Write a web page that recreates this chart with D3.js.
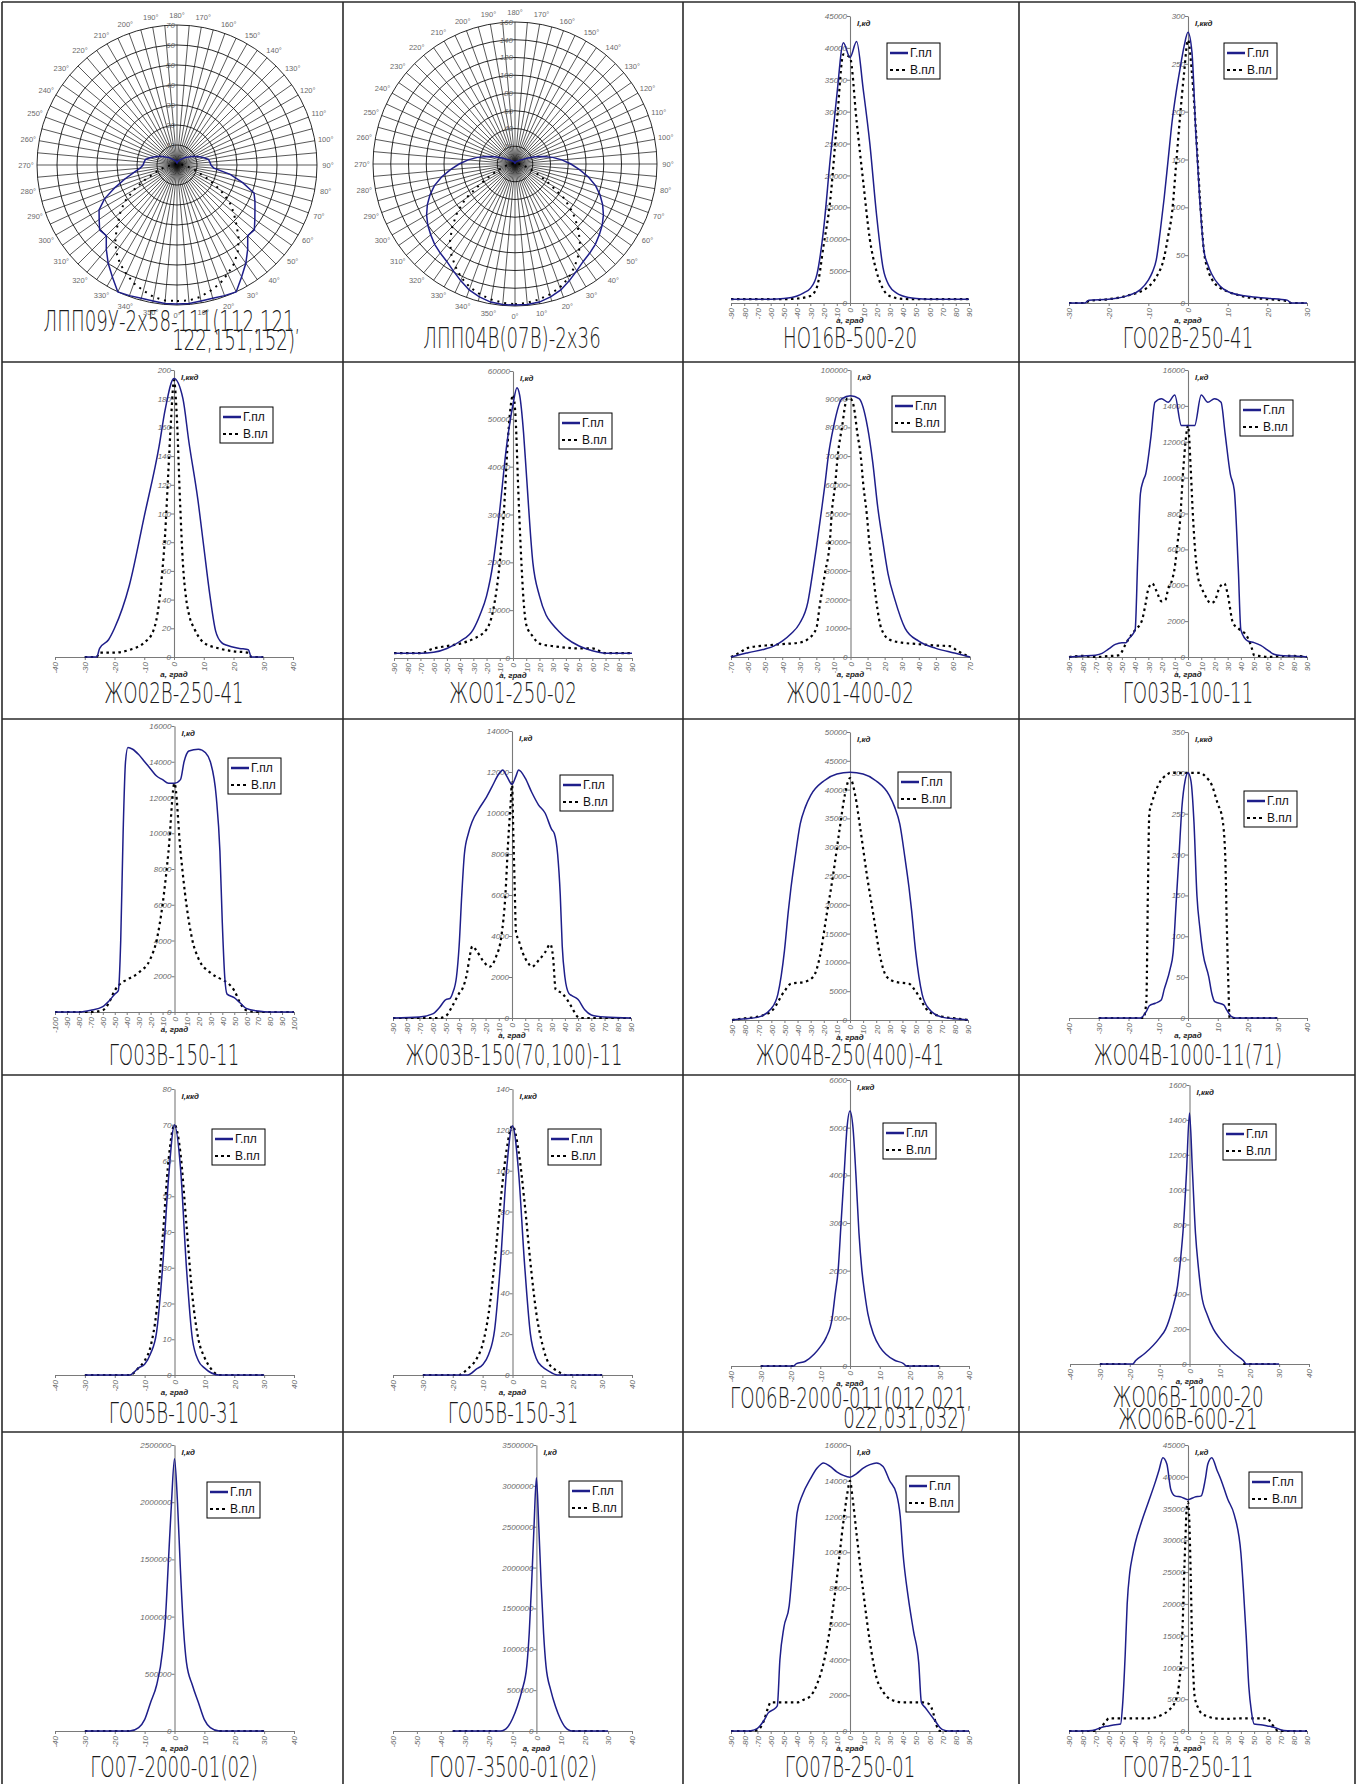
<!DOCTYPE html>
<html><head><meta charset="utf-8">
<script src="https://cdn.jsdelivr.net/npm/d3@7"></script>
<style>body{margin:0;background:#fff}svg{display:block}</style>
</head><body>
<svg id="c" width="1360" height="1784"></svg>
<script>
// ---------------- DATA ----------------
// Polar charts: values every 5 degrees, 0..355
const polarAngles = d3.range(0, 360, 5);
const lpp09G = [69.5,69.5,69,69,69.5,70,64.6,60,55,50,50.5,47.5,45,43,41,34,27,18.5,17,16.5,16,14,12,10,8.6,7,6,5,4,3.5,3,2.5,2,2,1.5,1,1,
  1,1.5,2,2,2.5,3,3.5,4,5,6,7,8.6,10,12,14,16,16.5,17,18.5,22,27,33,40,45,47.5,50.5,50,55,60,64.6,70,69.5,69,69,69.5];
const lpp09V = [68,68,67,65,63,60,57,53,48,42,37,32,25,18,12,9,6,4,3,2.5,2,1.5,1.2,1,1,1,0.8,0.7,0.6,0.5,0.5,0.5,0.5,0.5,0.5,0.5,0.5,
  0.5,0.5,0.5,0.5,0.5,0.5,0.5,0.6,0.7,0.8,1,1,1,1.2,1.5,2,2.5,3,4,6,9,12,18,25,32,37,42,48,53,57,60,63,65,67,68];
const lpp04G = [159,159,158,155,151,145,139,134,131,128,124,120,115,109,102,94,84,73,63,53,43,33,24,16,10,8,6,5,4,3.5,3,2.5,2,2,1.5,1,1,
  1,1.5,2,2,2.5,3,3.5,4,5,6,8,10,16,24,33,43,53,63,73,84,94,102,109,115,120,124,128,131,134,139,145,151,155,158,159];
const lpp04V = [158,157,155,152,148,142,134,125,114,100,85,68,45,30,20,14,10,7,5,4,3,2.5,2.2,2,2,1.8,1.6,1.5,1.4,1.2,1,1,1,1,1,1,1,
  1,1,1,1,1,1,1.2,1.4,1.5,1.6,1.8,2,2,2.2,2.5,3,4,5,7,10,14,20,30,45,68,85,100,114,125,134,142,148,152,155,157];

// Line charts: [angle, intensity] pairs (Г.пл solid, В.пл dotted)
const ho16G = [[-90,600],[-80,600],[-70,600],[-60,600],[-50,700],[-40,1100],[-35,1600],[-30,2300],[-25,4500],[-20,11500],[-15,22500],[-10,32500],[-5,40800],[0,38500],[5,41000],[10,33500],[15,25000],[20,14000],[25,5500],[30,2600],[35,1600],[40,1100],[50,700],[60,600],[70,600],[80,600],[90,600]];
const ho16V = [[-90,600],[-80,600],[-70,600],[-60,600],[-50,600],[-40,700],[-30,1100],[-25,2500],[-20,9000],[-15,16000],[-10,28000],[-5,39000],[0,38500],[5,28500],[10,19000],[15,10000],[20,5000],[25,2200],[30,1100],[40,650],[50,600],[60,600],[70,600],[80,600],[90,600]];
const go02G = [[-30,0],[-26,0],[-25,3],[-20,4],[-15,8],[-12,14],[-10,24],[-9,32],[-8,45],[-7,75],[-6,110],[-5,150],[-4,190],[-3,220],[-2,245],[-1,268],[0,283],[1,262],[2,175],[3,105],[4,55],[5,40],[6,30],[8,18],[10,12],[15,7],[20,5],[25,3],[26,0],[30,0]];
const go02V = [[-30,0],[-26,0],[-25,2],[-20,4],[-15,8],[-10,17],[-8,27],[-6,48],[-5,70],[-4,95],[-3,145],[-2,195],[-1,240],[0,275],[1,240],[2,180],[3,110],[4,55],[5,35],[6,25],[8,16],[10,12],[15,6],[20,4],[25,2],[26,0],[30,0]];
const zho02G = [[-30,0],[-26,0],[-25,6],[-22,12],[-20,20],[-15,50],[-10,98],[-5,147],[-3,172],[0,194],[3,180],[5,150],[8,110],[10,77],[12,44],[14,18],[16,10],[18,8],[22,6],[25,5],[26,0],[30,0]];
const zho02V = [[-30,0],[-26,0],[-25,3],[-20,3],[-15,5],[-10,10],[-7,18],[-5,38],[-4,58],[-3,85],[-2,125],[-1,165],[0,193],[1,165],[2,110],[3,65],[4,42],[5,30],[7,19],[10,10],[15,6],[20,4],[25,3],[26,0],[30,0]];
const zho250G = [[-90,1000],[-70,1000],[-60,1200],[-50,2000],[-40,3500],[-30,6000],[-25,9000],[-20,13000],[-15,20000],[-10,31000],[-5,44000],[0,53000],[3,56500],[5,55000],[8,47000],[10,39000],[15,20000],[20,13000],[25,9000],[30,7000],[35,5500],[40,4200],[50,2500],[60,1500],[70,1000],[90,1000]];
const zho250V = [[-90,1000],[-70,1000],[-60,2000],[-50,2500],[-40,3000],[-30,4000],[-20,6000],[-15,10000],[-10,20000],[-7,30000],[-4,45000],[-2,52000],[0,55000],[2,50000],[4,35000],[6,22000],[8,12000],[10,7000],[15,4500],[20,3000],[30,2500],[50,2000],[60,2000],[70,1000],[90,1000]];
const zho400G = [[-70,0],[-65,800],[-60,1500],[-50,2800],[-45,3800],[-40,5500],[-35,8000],[-30,11500],[-25,19000],[-22,30000],[-20,38000],[-17,51000],[-15,60000],[-13,70000],[-10,80000],[-5,90000],[0,91000],[5,90000],[10,80000],[13,68000],[16,52000],[19,40000],[22,29000],[26,20000],[32,10000],[40,5500],[50,3000],[60,1500],[65,800],[70,0]];
const zho400V = [[-70,0],[-65,1500],[-60,3200],[-50,4000],[-40,4500],[-30,5000],[-25,6200],[-20,10000],[-18,18000],[-15,29000],[-12,41000],[-11,50000],[-9,60000],[-7.5,70000],[-5,80000],[-2,90000],[0,90000],[2,87000],[4,78000],[6,70000],[7.5,60000],[9.5,50000],[11,40000],[13,30000],[15,20000],[18,10000],[23,6000],[30,5000],[40,4500],[50,4000],[58,3800],[63,2000],[70,0]];
const go100G = [[-90,0],[-80,50],[-70,100],[-65,200],[-60,450],[-55,700],[-50,800],[-47,800],[-45,1000],[-40,1500],[-38,5500],[-36,9100],[-34,9800],[-32,10200],[-28,12300],[-25,14200],[-20,14400],[-15,14200],[-10,14600],[-5,12900],[0,12900],[5,12900],[10,14600],[15,14200],[20,14400],[25,14200],[28,12500],[32,10200],[35,9300],[38,5000],[40,1500],[45,900],[50,800],[55,650],[60,400],[65,150],[70,80],[80,50],[90,0]];
const go100V = [[-90,0],[-80,60],[-70,0],[-60,50],[-52,100],[-48,600],[-45,1000],[-42,1300],[-40,1500],[-35,2000],[-32,3000],[-30,3800],[-27,4100],[-24,3700],[-20,3100],[-17,3200],[-15,3800],[-12,4300],[-10,5000],[-8,6300],[-6,7600],[-4,10000],[-2,11900],[0,12900],[2,10600],[3.5,8200],[6,5400],[8,4300],[10,3900],[13.5,3350],[17,3000],[20,3100],[24,3900],[27.5,4100],[30,3500],[34,1900],[38,1600],[45,1100],[48,550],[50,100],[55,50],[60,0],[70,50],[80,60],[90,0]];
const go150G = [[-100,0],[-80,0],[-70,100],[-60,300],[-55,600],[-50,1000],[-47,1200],[-45,4000],[-43,10000],[-41,14000],[-39,14800],[-35,14700],[-30,14400],[-25,14000],[-20,13600],[-15,13200],[-10,13000],[-5,12800],[0,12800],[5,13000],[8,14000],[12,14600],[20,14700],[26,14500],[30,14000],[35,12000],[38,9000],[40,5000],[42,2000],[44,1000],[50,800],[55,500],[60,200],[70,50],[80,0],[100,0]];
const go150V = [[-100,0],[-70,0],[-60,100],[-55,500],[-50,1200],[-45,1600],[-40,1800],[-30,2200],[-20,3000],[-15,4000],[-10,6000],[-5,9000],[0,12800],[5,9000],[10,6000],[15,4000],[20,3000],[30,2200],[40,1800],[45,1600],[50,1200],[55,500],[60,100],[70,0],[100,0]];
const zho03G = [[-90,0],[-70,50],[-60,200],[-55,500],[-50,900],[-47,950],[-45,1200],[-42,2000],[-40,3500],[-38,6000],[-36,8000],[-33,9000],[-30,9600],[-25,10200],[-20,10700],[-15,11300],[-10,11900],[-7,12100],[-4,11800],[0,11400],[3,11800],[5,12100],[10,11700],[15,11000],[20,10400],[25,10000],[30,9200],[32,9000],[34.5,8000],[36.5,6000],[38,3500],[40,2000],[43,1200],[45,1100],[50,900],[55,400],[60,150],[70,50],[90,0]];
const zho03V = [[-90,0],[-55,0],[-50,100],[-45,600],[-40,1200],[-37,1500],[-34,2200],[-32,3000],[-30,3500],[-27,3300],[-22,2800],[-17,2500],[-12,3000],[-8,4000],[-5,6000],[-3,8500],[-1,10500],[0,11500],[1,9000],[2,6500],[3,4200],[5,3800],[8,3200],[12,2700],[15,2500],[20,2800],[25,3200],[29,3600],[31,3000],[33,1400],[38,1200],[45,550],[49,100],[52,0],[90,0]];
const zho04G = [[-90,0],[-80,200],[-70,500],[-60,2000],[-55,4500],[-50,12000],[-47,19000],[-45,23000],[-42,28000],[-38,34000],[-34,37000],[-30,39000],[-20,41500],[-10,42700],[0,43000],[10,42700],[20,41500],[30,39000],[34,37000],[38,34000],[42,28000],[45,23000],[47,19000],[50,12000],[55,4500],[60,2000],[70,500],[80,200],[90,0]];
const zho04V = [[-90,0],[-80,300],[-70,600],[-60,1500],[-50,5000],[-45,6300],[-35,6600],[-28,7500],[-23,11000],[-18,18000],[-13,25000],[-8,33000],[-4,39000],[0,42000],[4,39000],[8,33000],[13,25000],[18,18000],[23,11000],[28,7500],[35,6600],[45,6300],[50,5000],[60,1500],[70,600],[80,300],[90,0]];
const zho1000G = [[-30,0],[-16,0],[-14,8],[-13,15],[-11,18],[-9,22],[-8,35],[-6,60],[-5,80],[-4,140],[-3,200],[-2,260],[-1,290],[0,300],[1,290],[2,240],[3,150],[4,110],[5,80],[7,50],[8,30],[9,20],[12,16],[13,10],[14.5,2],[16,0],[30,0]];
const zho1000V = [[-30,0],[-15,0],[-14,20],[-13.5,150],[-13,250],[-12,265],[-10,285],[-7,298],[-6,300],[0,300],[4,300],[6,295],[8,285],[10,262],[11.5,245],[12.5,200],[13,120],[13.5,50],[14,0],[30,0]];
const go05aG = [[-30,0],[-15,0],[-12,2],[-10,3],[-8,6],[-6,12],[-4,30],[-2,55],[0,70],[2,58],[4,30],[6,10],[8,4],[10,2],[15,0],[30,0]];
const go05aV = [[-30,0],[-15,0],[-12,2],[-10,4],[-8,8],[-6,18],[-4,38],[-2,60],[0,70],[2,62],[4,42],[6,22],[8,10],[10,5],[12,2],[15,0],[30,0]];
const go05bG = [[-30,0],[-15,0],[-12,3],[-10,5],[-8,10],[-6,22],[-4,55],[-2,100],[0,122],[2,100],[4,55],[6,20],[8,8],[10,4],[12,2],[15,0],[30,0]];
const go05bV = [[-30,0],[-18,0],[-15,3],[-12,8],[-10,15],[-8,30],[-6,55],[-4,85],[-2,110],[0,122],[2,110],[4,85],[6,55],[8,30],[10,15],[12,6],[15,2],[18,0],[30,0]];
const go06G = [[-30,0],[-19,0],[-18,50],[-15,100],[-12,250],[-10,400],[-8,600],[-6,1000],[-5,1500],[-4,2000],[-3,3000],[-2,4000],[-1,5000],[0,5350],[1,5000],[2,4000],[3,2800],[4,2000],[5,1500],[6,1100],[8,650],[10,400],[12,250],[15,120],[18,50],[19,0],[30,0]];
const go06V = [[-30,0],[-19,0],[-18,null],[18,null],[19,0],[30,0]];
const zho06G = [[-30,0],[-19,0],[-18,20],[-15,60],[-10,150],[-8,200],[-6,300],[-4,450],[-3,600],[-2,800],[-1,1100],[0,1440],[1,1100],[2,750],[3,550],[4,400],[6,280],[8,200],[10,150],[15,60],[18,20],[19,0],[30,0]];
const zho06V = [[-30,0],[-20,0],[-19,null],[17,null],[18,0],[30,0]];
const go07aG = [[-30,0],[-15,0],[-12,30000],[-10,100000],[-8,250000],[-6,400000],[-4,700000],[-3,1000000],[-2,1500000],[-1,2000000],[0,2380000],[1,2000000],[2,1400000],[3,900000],[4,600000],[6,400000],[8,250000],[10,100000],[12,30000],[15,0],[30,0]];
const go07aV = [[-30,0],[-15,0],[-14,null],[14,null],[15,0],[30,0]];
const go07bG = [[-35,0],[-15,0],[-12,50000],[-10,150000],[-8,300000],[-6,500000],[-4,800000],[-3,1200000],[-2,1800000],[-1,2500000],[0,3100000],[1,2500000],[2,1800000],[3,1200000],[4,800000],[6,500000],[8,300000],[10,150000],[12,50000],[15,0],[30,0]];
const go07bV = [[-35,0],[-15,0],[-14,null],[14,null],[15,0],[30,0]];
const go07cG = [[-90,0],[-80,0],[-75,20],[-70,150],[-65,600],[-62,1000],[-58,1200],[-55,1400],[-53,4000],[-50,5800],[-46,7000],[-43,9500],[-40,12200],[-36,13200],[-30,14100],[-25,14700],[-20,15000],[-15,14800],[-10,14500],[-5,14300],[0,14200],[5,14400],[10,14700],[15,14900],[20,15000],[25,14800],[30,14000],[35,13300],[38,12000],[40,10000],[44,7500],[48,5600],[52,3800],[54,1600],[57,1300],[60,1000],[65,500],[68,200],[70,80],[75,0],[90,0]];
const go07cV = [[-90,0],[-75,0],[-70,50],[-65,600],[-62,1300],[-60,1600],[-50,1600],[-40,1600],[-35,1750],[-30,1950],[-25,2600],[-20,3800],[-15,5800],[-10,8500],[-5,11700],[-2,13300],[0,14000],[2,13000],[5,11000],[10,7800],[15,5000],[20,3000],[25,2200],[30,1800],[40,1600],[50,1600],[55,1600],[60,1500],[63,1000],[65,400],[68,0],[90,0]];
const go07dG = [[-90,0],[-75,50],[-70,200],[-65,600],[-60,800],[-55,1000],[-51,1100],[-49.5,4000],[-47.5,12000],[-46,20000],[-44,25000],[-42,27500],[-40,29500],[-35,33000],[-30,36000],[-25,39000],[-22,41000],[-19,43000],[-16,42000],[-13,38000],[-10,37000],[-5,36800],[0,36400],[5,36800],[10,37000],[13,39500],[15,42000],[18,43000],[22,41000],[25,39500],[30,36500],[35,34000],[40,28000],[42,22000],[44,15000],[46,7000],[48,3000],[50,1100],[55,1000],[60,800],[65,600],[70,200],[75,50],[90,0]];
const go07dV = [[-90,0],[-70,0],[-65,800],[-62,1500],[-60,2000],[-50,2000],[-40,2000],[-30,2000],[-20,2500],[-15,3200],[-10,4500],[-7,7000],[-5,12000],[-4,17000],[-3,24000],[-2,30000],[-1,35000],[0,36000],[1,33000],[2,25000],[3,15000],[4,9000],[5,5500],[8,3500],[10,2800],[15,2300],[20,2000],[30,1900],[40,2000],[50,2000],[60,2000],[63,1200],[66,400],[68,0],[90,0]];

// panel metadata
const lineTitles = [["НО16В-500-20"],["ГО02В-250-41"],["ЖО02В-250-41"],["ЖО01-250-02"],["ЖО01-400-02"],["ГО03В-100-11"],
  ["ГО03В-150-11"],["ЖО03В-150(70,100)-11"],["ЖО04В-250(400)-41"],["ЖО04В-1000-11(71)"],
  ["ГО05В-100-31"],["ГО05В-150-31"],["ГО06В-2000-011(012,021,","022,031,032)"],["ЖО06В-1000-20","ЖО06В-600-21"],
  ["ГО07-2000-01(02)"],["ГО07-3500-01(02)"],["ГО07В-250-01"],["ГО07В-250-11"]];
const xDomains = [[-90,90],[-30,30],[-40,40],[-90,90],[-70,70],[-90,90],[-100,100],[-90,90],[-90,90],[-40,40],
  [-40,40],[-40,40],[-40,40],[-40,40],[-40,40],[-60,40],[-90,90],[-90,90]];
const yMaxes = [45000,300,200,60000,100000,16000,16000,14000,50000,350,80,140,6000,1600,2500000,3500000,16000,45000];
const ySteps = [5000,50,20,10000,10000,2000,2000,2000,5000,50,10,20,1000,200,500000,500000,2000,5000];
const yUnits = ["I,кд","I,ккд","I,ккд","I,кд","I,кд","I,кд","I,кд","I,кд","I,кд","I,ккд","I,ккд","I,ккд","I,ккд","I,ккд","I,кд","I,кд","I,кд","I,кд"];
const seriesG = [ho16G,go02G,zho02G,zho250G,zho400G,go100G,go150G,zho03G,zho04G,zho1000G,go05aG,go05bG,go06G,zho06G,go07aG,go07bG,go07cG,go07dG];
const seriesV = [ho16V,go02V,zho02V,zho250V,zho400V,go100V,go150V,zho03V,zho04V,zho1000V,go05aV,go05bV,go06V,zho06V,go07aV,go07bV,go07cV,go07dV];
const legendNames = ["Г.пл","В.пл"];
const polarTitles = [["ЛПП09У-2x58-111(112,121,","122,151,152)"],["ЛПП04В(07В)-2x36"]];
const polarMax = [70,160];
const polarStep = [10,20];

// ---------------- LAYOUT ----------------
const colX = [2,343,683,1019,1355], rowY = [2,362,719,1075,1432];
const lineLayout = [
 {x0:731,x1:969,yt:16,yb:303,lx:887,ly:43,tc:850,tb:[348]},
 {x0:1069,x1:1307,yt:16,yb:303,lx:1224,ly:43,tc:1188,tb:[348]},
 {x0:55,x1:293,yt:370,yb:657,lx:220,ly:407,tc:174,tb:[703]},
 {x0:394,x1:632,yt:371,yb:658,lx:559,ly:413,tc:513,tb:[703]},
 {x0:731,x1:970,yt:370,yb:657,lx:892,ly:396,tc:850,tb:[703]},
 {x0:1069,x1:1307,yt:370,yb:657,lx:1240,ly:400,tc:1188,tb:[703]},
 {x0:55,x1:294,yt:726,yb:1012,lx:228,ly:758,tc:174,tb:[1065]},
 {x0:393,x1:631,yt:731,yb:1018,lx:560,ly:775,tc:514,tb:[1065]},
 {x0:732,x1:968,yt:732,yb:1020,lx:898,ly:772,tc:850,tb:[1065]},
 {x0:1069,x1:1307,yt:732,yb:1018,lx:1244,ly:791,tc:1188,tb:[1065]},
 {x0:55,x1:294,yt:1089,yb:1375,lx:212,ly:1129,tc:174,tb:[1423]},
 {x0:393,x1:632,yt:1089,yb:1375,lx:548,ly:1129,tc:513,tb:[1423]},
 {x0:731,x1:969,yt:1080,yb:1366,lx:883,ly:1123,tc:851,tb:[1408,1428],t2end:966},
 {x0:1070,x1:1309,yt:1085,yb:1364,lx:1223,ly:1124,tc:1188,tb:[1407,1429]},
 {x0:55,x1:294,yt:1445,yb:1731,lx:207,ly:1482,tc:174,tb:[1777]},
 {x0:393,x1:632,yt:1445,yb:1731,lx:569,ly:1481,tc:513,tb:[1777]},
 {x0:731,x1:969,yt:1445,yb:1731,lx:906,ly:1476,tc:850,tb:[1777]},
 {x0:1069,x1:1307,yt:1445,yb:1731,lx:1249,ly:1472,tc:1188,tb:[1777]}
];
const polarLayout = [
 {cx:177,cy:165,R:140,tc:172,tb:[331,350],t2end:295},
 {cx:515,cy:164,R:142,tc:512,tb:[348]}
];

const NAVY = "#1e1e8a", GREY = "#6a6a6a";
const TFONT = "'DejaVu Sans', sans-serif", SF = 0.65;
const svg = d3.select("#c");

// frame grid
svg.append("g").selectAll("line").data(colX).join("line")
  .attr("x1",d=>d).attr("x2",d=>d).attr("y1",2).attr("y2",1784)
  .attr("stroke","#2a2a2a").attr("stroke-width",1.6);
svg.append("g").selectAll("line").data(rowY).join("line")
  .attr("x1",2).attr("x2",1355).attr("y1",d=>d).attr("y2",d=>d)
  .attr("stroke","#2a2a2a").attr("stroke-width",1.6);

function drawTitle(lines, L){
  lines.forEach((t,i)=>{
    const end = i>0 && L.t2end;
    svg.append("text").text(t)
      .attr("transform",`translate(${end?L.t2end:L.tc},${L.tb[i]}) scale(${SF},1)`)
      .attr("text-anchor", end?"end":"middle")
      .attr("font-family",TFONT).attr("font-size",28).attr("font-weight",200).attr("fill","#1a1a1a");
  });
}

function drawLinePanel(i){
  const L = lineLayout[i], xd = xDomains[i];
  const g = svg.append("g");
  const x = d3.scaleLinear().domain(xd).range([L.x0,L.x1]);
  const y = d3.scaleLinear().domain([0,yMaxes[i]]).range([L.yb,L.yt]);
  const ax = x(0);
  const xt = d3.range(xd[0], xd[1]+0.01, 10);
  const yt = d3.range(0, yMaxes[i]+0.01, ySteps[i]);

  const xa = g.append("g").attr("transform",`translate(0,${L.yb})`)
    .call(d3.axisBottom(x).tickValues(xt).tickSize(3).tickSizeOuter(0).tickFormat(d=>String(d)));
  xa.selectAll("text").attr("transform","rotate(-90)").attr("text-anchor","end")
    .attr("x",-5).attr("y",0).attr("dy","0.35em");
  const ya = g.append("g").attr("transform",`translate(${ax},0)`)
    .call(d3.axisLeft(y).tickValues(yt).tickSize(3).tickSizeOuter(0).tickFormat(d=>String(d)));
  ya.selectAll("text").attr("x",-3);
  [xa,ya].forEach(a=>{
    a.select(".domain").attr("stroke","#7a7a7a").attr("stroke-width",1.1);
    a.selectAll(".tick line").attr("stroke","#7a7a7a");
    a.selectAll("text").attr("fill",GREY).attr("font-size",8).attr("font-style","italic")
      .attr("font-family","'Liberation Sans', Arial, sans-serif");
  });
  g.append("text").text(yUnits[i]).attr("x",ax+7).attr("y",L.yt+10)
    .attr("font-family","'Liberation Sans', Arial, sans-serif").attr("font-size",8)
    .attr("font-weight","bold").attr("font-style","italic").attr("fill","#222");
  g.append("text").text("a, град").attr("x",ax).attr("y",L.yb+20).attr("text-anchor","middle")
    .attr("font-family","'Liberation Sans', Arial, sans-serif").attr("font-size",8)
    .attr("font-weight","bold").attr("font-style","italic").attr("fill","#222");

  const line = d3.line().defined(d=>d[1]!==null).x(d=>x(d[0])).y(d=>y(d[1])).curve(d3.curveMonotoneX);
  g.append("path").attr("d",line(seriesV[i])).attr("fill","none").attr("stroke","#000")
    .attr("stroke-width",2.2).attr("stroke-dasharray","2.5,3.5");
  g.append("path").attr("d",line(seriesG[i])).attr("fill","none").attr("stroke",NAVY)
    .attr("stroke-width",1.5);

  // legend
  const lg = g.append("g").attr("transform",`translate(${L.lx},${L.ly})`);
  lg.append("rect").attr("width",53).attr("height",36).attr("fill","#fff").attr("stroke","#000").attr("stroke-width",1);
  legendNames.forEach((n,k)=>{
    const yy = 10 + k*17;
    lg.append("line").attr("x1",3).attr("x2",21).attr("y1",yy).attr("y2",yy)
      .attr("stroke",k?"#000":NAVY).attr("stroke-width",k?2.2:2.5)
      .attr("stroke-dasharray",k?"3,3":null);
    lg.append("text").text(n).attr("x",23).attr("y",yy).attr("dy","0.36em")
      .attr("font-family","'Liberation Sans', Arial, sans-serif").attr("font-size",12).attr("fill","#111");
  });
  drawTitle(lineTitles[i], L);
}

function drawPolar(i){
  const L = polarLayout[i];
  const g = svg.append("g").attr("transform",`translate(${L.cx},${L.cy})`);
  const r = d3.scaleLinear().domain([0,polarMax[i]]).range([0,L.R]);
  const rings = d3.range(polarStep[i], polarMax[i]+0.01, polarStep[i]);
  g.selectAll("line.sp").data(d3.range(0,360,5)).join("line")
    .attr("x1",0).attr("y1",0)
    .attr("x2",d=>L.R*Math.sin(d*Math.PI/180)).attr("y2",d=>L.R*Math.cos(d*Math.PI/180))
    .attr("stroke","#111").attr("stroke-width",0.7);
  g.selectAll("circle").data(rings).join("circle").attr("r",d=>r(d))
    .attr("fill","none").attr("stroke","#111").attr("stroke-width",0.9);
  g.selectAll("text.ang").data(d3.range(0,360,10)).join("text")
    .text(d=>d+"°")
    .attr("x",d=>(L.R+11)*Math.sin(d*Math.PI/180)).attr("y",d=>(L.R+10)*Math.cos(d*Math.PI/180))
    .attr("dy","0.35em").attr("text-anchor","middle")
    .attr("font-family","'Liberation Sans', Arial, sans-serif").attr("font-size",7.5).attr("fill",GREY);
  g.selectAll("text.val").data(rings).join("text").text(d=>d)
    .attr("x",-2).attr("y",d=>-r(d)).attr("dy","0.35em").attr("text-anchor","end")
    .attr("font-family","'Liberation Sans', Arial, sans-serif").attr("font-size",8)
    .attr("font-style","italic").attr("fill",GREY);
  const lr = d3.lineRadial().angle(d=>Math.PI - d[0]*Math.PI/180).radius(d=>r(d[1])).curve(d3.curveLinearClosed);
  const vG = i ? lpp04G : lpp09G, vV = i ? lpp04V : lpp09V;
  g.append("path").attr("d",lr(polarAngles.map((a,k)=>[a,vV[k]]))).attr("fill","none")
    .attr("stroke","#000").attr("stroke-width",2).attr("stroke-dasharray","2,5");
  g.append("path").attr("d",lr(polarAngles.map((a,k)=>[a,vG[k]]))).attr("fill","none")
    .attr("stroke",NAVY).attr("stroke-width",1.5);
  drawTitle(polarTitles[i], L);
}

drawPolar(0); drawPolar(1);
for (let i=0;i<18;i++) drawLinePanel(i);
</script>
</body></html>
